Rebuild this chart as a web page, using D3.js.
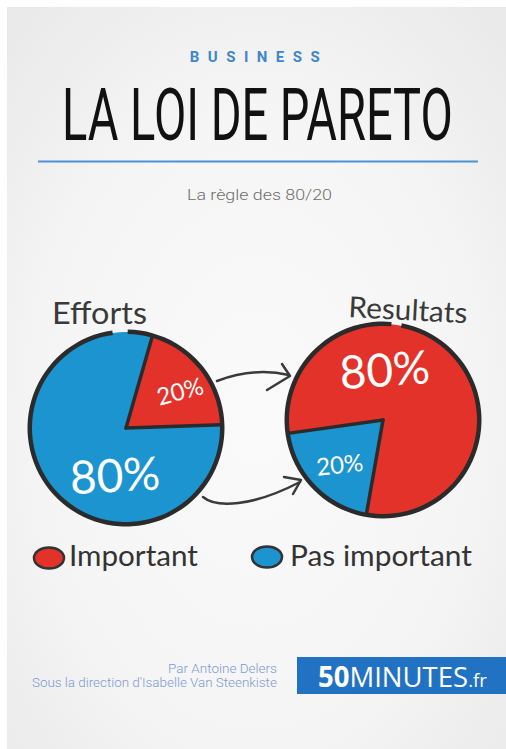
<!DOCTYPE html>
<html><head><meta charset="utf-8">
<script src="https://cdn.jsdelivr.net/npm/d3@7"></script>
<style>body{margin:0;background:#fff}svg{display:block}</style>
</head><body>
<script>
// ---- data ----
const categories = ["Important", "Pas important"];
const pieTitles = ["Efforts", "Resultats"];
const effortsValues = [20, 80];     // Important, Pas important
const resultatsValues = [80, 20];   // Important, Pas important
const headerTexts = ["BUSINESS", "LA LOI DE PARETO", "La règle des 80/20"];
const authorLines = ["Par Antoine Delers", "Sous la direction d'Isabelle Van Steenkiste"];

// ---- style ----
const W = 506, H = 749;
const RED = "#e3322a", BLUE = "#1c94cf", INK = "#2b2b2b";
const HAND = "Lato, 'Open Sans', sans-serif";
const color = d3.scaleOrdinal().domain(categories).range([RED, BLUE]);
const deg = d => d * Math.PI / 180;

const svg = d3.select("body").append("svg").attr("width", W).attr("height", H);
const defs = svg.append("defs");
const g = defs.append("radialGradient").attr("id", "bg").attr("cx", "50%").attr("cy", "55%").attr("r", "70%");
g.append("stop").attr("offset", "0%").attr("stop-color", "#fafafa");
g.append("stop").attr("offset", "60%").attr("stop-color", "#f5f5f5");
g.append("stop").attr("offset", "100%").attr("stop-color", "#eaeaea");
svg.append("rect").attr("x", 7).attr("y", 7).attr("width", W - 7).attr("height", H - 7).attr("fill", "url(#bg)");

// fit a text horizontally to a target width by scaling (keeps real text)
function fitText(sel, x, y, width, rot = 0, anchor = "start") {
  const w = sel.node().getComputedTextLength();
  const s = width / w;
  const dx = anchor === "end" ? -width : 0;
  sel.attr("transform", `translate(${x},${y}) rotate(${rot}) translate(${dx},0) scale(${s},1)`);
  return sel;
}

// ---- header ----
svg.append("text").attr("x", 259).attr("y", 62).attr("text-anchor", "middle")
  .attr("font-family", "Roboto, sans-serif").attr("font-weight", 700).attr("font-size", 15)
  .attr("letter-spacing", 8.5).attr("fill", "#3d87c8").text(headerTexts[0]);
fitText(svg.append("text")
  .attr("font-family", "Roboto, sans-serif").attr("font-weight", 400).attr("font-size", 73)
  .attr("fill", "#111").text(headerTexts[1]), 62, 140, 391);
svg.append("line").attr("x1", 38).attr("x2", 478).attr("y1", 161.5).attr("y2", 161.5)
  .attr("stroke", "#4a92d3").attr("stroke-width", 2);
fitText(svg.append("text")
  .attr("font-family", "Roboto, sans-serif").attr("font-weight", 300).attr("font-size", 14.5)
  .attr("fill", "#6d6d6d").text(headerTexts[2]), 187, 200, 145);

// ---- pies ----
const pies = [
  { values: effortsValues, cx: 126, cy: 428, r: 96, start: 16, gap: [1, 352],
    title: { x: 52, y: 324, size: 30, len: 95, rot: 0 },
    labels: [ { a: 56, k: 0.68, size: 24, rot: -15 }, { a: 193, k: 0.51, size: 46, rot: -3 } ] },
  { values: resultatsValues, cx: 383, cy: 420, r: 96, start: -98, gap: [11, 365],
    title: { x: 348, y: 317, size: 29, len: 119, rot: 3 },
    labels: [ { a: 2, k: 0.52, size: 46, rot: -4 }, { a: 224, k: 0.65, size: 24, rot: -6 } ] }
];

pies.forEach((p, i) => {
  const layout = d3.pie().sort(null).value(d => d)
    .startAngle(deg(p.start)).endAngle(deg(p.start) + 2 * Math.PI);
  const arcs = layout(p.values);
  const arc = d3.arc().innerRadius(0).outerRadius(p.r);
  const G = svg.append("g").attr("transform", `translate(${p.cx},${p.cy})`);
  G.selectAll("path.slice").data(arcs).join("path").attr("class", "slice")
    .attr("d", arc).attr("fill", (d, j) => color(categories[j]));
  const small = arcs.reduce((a, b) => (a.value < b.value ? a : b));
  [small.startAngle, small.endAngle].forEach(a => {
    G.append("line").attr("x1", 0).attr("y1", 0)
      .attr("x2", p.r * Math.sin(a)).attr("y2", -p.r * Math.cos(a))
      .attr("stroke", INK).attr("stroke-width", 3.5).attr("stroke-linecap", "round");
  });
  G.append("path").attr("d", d3.arc().innerRadius(p.r - 2).outerRadius(p.r + 2.5)
      .startAngle(deg(p.gap[0])).endAngle(deg(p.gap[1]))()).attr("fill", INK);
  arcs.forEach((d, j) => {
    const L = p.labels[j];
    const x = p.r * L.k * Math.sin(deg(L.a)), y = -p.r * L.k * Math.cos(deg(L.a));
    G.append("text").attr("transform", `translate(${x},${y}) rotate(${L.rot})`)
      .attr("text-anchor", "middle").attr("dy", "0.35em")
      .attr("font-family", HAND).attr("font-weight", 400).attr("font-size", L.size)
      .attr("fill", "#fff").text(d.value + "%");
  });
  const T = p.title;
  fitText(svg.append("text")
    .attr("font-family", HAND).attr("font-weight", 400).attr("font-size", T.size)
    .attr("fill", "#3a3a3a").text(pieTitles[i]), T.x, T.y, T.len, T.rot);
});

// ---- arrows ----
const arrowG = svg.append("g").attr("fill", "none").attr("stroke", "#3a3a3a")
  .attr("stroke-width", 2.5).attr("stroke-linecap", "round").attr("stroke-linejoin", "round");
arrowG.append("path").attr("d", "M217,381 Q254,367 289,375");
arrowG.append("path").attr("d", "M282,364 L290,376 L267,390");
arrowG.append("path").attr("d", "M203,497 C216,508 252,507 300,482");
arrowG.append("path").attr("d", "M284,477 L301,480 L293,494");

// ---- legend ----
const legend = [ { x: 49, y: 558, tx: 69, len: 129 }, { x: 267, y: 557, tx: 290, len: 182 } ];
categories.forEach((c, i) => {
  const L = legend[i];
  svg.append("ellipse").attr("cx", L.x).attr("cy", L.y).attr("rx", 15).attr("ry", 10.5)
    .attr("fill", color(c)).attr("stroke", "#333").attr("stroke-width", 2.5);
  fitText(svg.append("text")
    .attr("font-family", HAND).attr("font-weight", 400).attr("font-size", 29)
    .attr("fill", "#333").text(c), L.tx, 566, L.len);
});

// ---- footer ----
const authorWidths = [109, 245];
authorLines.forEach((t, i) => {
  fitText(svg.append("text")
    .attr("font-family", "Roboto, sans-serif").attr("font-weight", 300).attr("font-size", 12)
    .attr("fill", "#7b9bd2").text(t), 277, 673 + i * 14, authorWidths[i], 0, "end");
});
svg.append("rect").attr("x", 297).attr("y", 657).attr("width", W - 297).attr("height", 37).attr("fill", "#2172c3");
const brand = svg.append("text")
  .attr("font-family", "'Open Sans', sans-serif").attr("fill", "#fff").attr("font-size", 28);
brand.append("tspan").attr("font-weight", 700).text("50");
brand.append("tspan").attr("font-weight", 400).text("MINUTES");
brand.append("tspan").attr("font-weight", 400).attr("font-size", 19).text(".fr");
fitText(brand, 318, 687, 169);
</script>
</body></html>
